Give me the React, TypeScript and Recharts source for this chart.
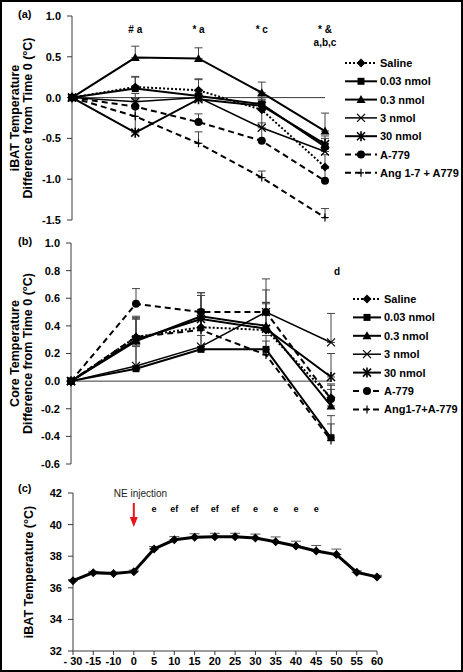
import React from "react";
import { LineChart, Line, XAxis, YAxis, ErrorBar, ReferenceLine, ReferenceDot, LabelList, Legend } from "recharts";

const FONT = "Arial, 'Liberation Sans', sans-serif";
const AXIS = "#3a3a3a";

// ---- panel (a): iBAT temperature change
const aTimes = ["0", "10", "20", "30", "60"];
const aSaline = [0, 0.13, 0.09, -0.15, -0.85];
const aNmol003 = [0, 0.11, 0.02, -0.08, -0.6];
const aNmol03 = [0, 0.49, 0.48, 0.06, -0.41];
const aNmol3 = [0, -0.05, 0.0, -0.37, -0.66];
const aNmol30 = [0, -0.43, -0.02, -0.1, -0.57];
const aA779 = [0, -0.11, -0.3, -0.53, -1.02];
const aAngA779 = [0, -0.23, -0.56, -0.98, -1.47];
const aSalineErr = [0, 0.12, 0.14, 0.12, 0.15];
const aNmol003Err = [0, 0.15, 0.2, 0.1, 0.1];
const aNmol03Err = [0, 0.14, 0.13, 0.13, 0.22];
const aNmol3Err = [0, 0.1, 0.1, 0.35, 0.1];
const aNmol30Err = [0, 0.4, 0.1, 0.1, 0.1];
const aA779Err = [0, 0.1, 0.1, 0.22, 0.15];
const aAngA779Err = [0, 0.1, 0.14, 0.08, 0.11];
const aNotes = ["", "# a", "* a", "* c", "* &|a,b,c"];
const aTicks = [-1.5, -1, -0.5, 0, 0.5, 1];

// ---- panel (b): core temperature change
const bTimes = ["0", "10", "20", "30", "60"];
const bSaline = [0, 0.32, 0.39, 0.37, -0.12];
const bNmol003 = [0, 0.09, 0.23, 0.23, -0.41];
const bNmol03 = [0, 0.29, 0.47, 0.4, -0.18];
const bNmol3 = [0, 0.11, 0.25, 0.5, 0.28];
const bNmol30 = [0, 0.3, 0.45, 0.38, 0.03];
const bA779 = [0, 0.56, 0.5, 0.5, -0.13];
const bAngA779 = [0, 0.32, 0.37, 0.19, -0.43];
const bSalineErr = [0, 0.15, 0.13, 0.2, 0.1];
const bNmol003Err = [0, 0.16, 0.1, 0.1, 0.1];
const bNmol03Err = [0, 0.16, 0.17, 0.17, 0.12];
const bNmol3Err = [0, 0.15, 0.12, 0.24, 0.21];
const bNmol30Err = [0, 0.15, 0.17, 0.18, 0.17];
const bA779Err = [0, 0.11, 0.14, 0.16, 0.1];
const bAngA779Err = [0, 0.14, 0.25, 0.1, 0.18];
const bNotes = ["", "", "", "", "d"];
const bTicks = [-0.6, -0.4, -0.2, 0, 0.2, 0.4, 0.6, 0.8, 1];

// ---- panel (c): iBAT temperature after NE injection
const cTimes = ["-\u00a030", "-15", "-10", "0", "5", "10", "15", "20", "25", "30", "35", "40", "45", "50", "55", "60"];
const cTemp = [36.45, 36.96, 36.9, 37.02, 38.46, 39.04, 39.2, 39.23, 39.23, 39.15, 38.92, 38.65, 38.33, 38.1, 36.98, 36.69];
const cErr = [0.08, 0.08, 0.08, 0.1, 0.15, 0.2, 0.22, 0.22, 0.22, 0.25, 0.3, 0.3, 0.35, 0.35, 0.1, 0.1];
const cNotes = ["", "", "", "", "e", "ef", "ef", "ef", "ef", "e", "e", "e", "e", "", "", ""];
const cTicks = [32, 34, 36, 38, 40, 42];

type MarkerKind = "diamond" | "square" | "triangle" | "x" | "star" | "circle" | "plus";
type SeriesDef = { key: string; marker: MarkerKind; dash?: string; width?: number };

const seriesDefs: SeriesDef[] = [
  { key: "saline", marker: "diamond", dash: "2 2" },
  { key: "n003", marker: "square" },
  { key: "n03", marker: "triangle" },
  { key: "n3", marker: "x", width: 1.5 },
  { key: "n30", marker: "star" },
  { key: "a779", marker: "circle", dash: "6 4" },
  { key: "ang", marker: "plus", dash: "6 4" },
];
const aNames = ["Saline", "0.03 nmol", "0.3 nmol", "3 nmol", "30 nmol", "A-779", "Ang 1-7 + A779"];
const bNames = ["Saline", "0.03 nmol", "0.3 nmol", "3 nmol", "30 nmol", "A-779", "Ang1-7+A-779"];

function buildRows(times: string[], values: number[][], errs: number[][], notes: string[]) {
  return times.map((t, i) => {
    const r: any = { t, note: notes[i] };
    seriesDefs.forEach((s, j) => {
      r[s.key] = values[j][i];
      r[s.key + "Err"] = [0, errs[j][i]];
    });
    return r;
  });
}

const aRows = buildRows(
  aTimes,
  [aSaline, aNmol003, aNmol03, aNmol3, aNmol30, aA779, aAngA779],
  [aSalineErr, aNmol003Err, aNmol03Err, aNmol3Err, aNmol30Err, aA779Err, aAngA779Err],
  aNotes
);
const bRows = buildRows(
  bTimes,
  [bSaline, bNmol003, bNmol03, bNmol3, bNmol30, bA779, bAngA779],
  [bSalineErr, bNmol003Err, bNmol03Err, bNmol3Err, bNmol30Err, bA779Err, bAngA779Err],
  bNotes
);
const cRows = cTimes.map((t, i) => ({ t, temp: cTemp[i], err: [0, cErr[i]], note: cNotes[i] }));

function Marker({ kind, cx, cy }: { kind: MarkerKind; cx: number; cy: number }) {
  switch (kind) {
    case "diamond":
      return <polygon points={`${cx},${cy - 4.5} ${cx + 4.5},${cy} ${cx},${cy + 4.5} ${cx - 4.5},${cy}`} fill="#000" />;
    case "square":
      return <rect x={cx - 3.5} y={cy - 3.5} width={7} height={7} fill="#000" />;
    case "triangle":
      return <polygon points={`${cx},${cy - 4.5} ${cx + 4.5},${cy + 3.5} ${cx - 4.5},${cy + 3.5}`} fill="#000" />;
    case "x":
      return (
        <path d={`M${cx - 4},${cy - 4}L${cx + 4},${cy + 4}M${cx - 4},${cy + 4}L${cx + 4},${cy - 4}`} stroke="#000" strokeWidth={1.2} />
      );
    case "star":
      return (
        <path
          d={`M${cx - 4},${cy - 4}L${cx + 4},${cy + 4}M${cx - 4},${cy + 4}L${cx + 4},${cy - 4}M${cx},${cy - 5}L${cx},${cy + 5}`}
          stroke="#000"
          strokeWidth={1.6}
        />
      );
    case "circle":
      return <circle cx={cx} cy={cy} r={4} fill="#000" />;
    case "plus":
      return <path d={`M${cx - 3},${cy}L${cx + 3},${cy}M${cx},${cy - 4}L${cx},${cy + 4}`} stroke="#000" strokeWidth={1.2} />;
  }
  return null;
}

const dotFor = (kind: MarkerKind) => (p: any) => {
  if (p.cx == null || p.cy == null) return <g key={p.index} />;
  return <Marker key={p.index} kind={kind} cx={p.cx} cy={p.cy} />;
};

const tickStyle = { fontSize: 11, fontWeight: 700, fill: "#000", fontFamily: FONT };

function AxisTitle({ lines, centerY }: { lines: string[]; centerY: number }) {
  const xs = lines.length === 2 ? [19, 32] : [33];
  return (
    <g transform={`translate(0,${centerY}) rotate(-90)`}>
      {lines.map((l, i) => (
        <text key={i} x={0} y={xs[i]} textAnchor="middle" style={{ ...tickStyle, fontSize: 12.5 }}>
          {l}
        </text>
      ))}
    </g>
  );
}

function LegendBox({ names, gap, lineLen }: { names: string[]; gap: number; lineLen: number }) {
  return (
    <svg width={125} height={gap * names.length + 10}>
      {seriesDefs.map((s, i) => {
        const y = 8 + i * gap;
        return (
          <g key={s.key}>
            <line x1={0} x2={lineLen} y1={y} y2={y} stroke="#000" strokeWidth={s.width ?? 2} strokeDasharray={s.dash} />
            <Marker kind={s.marker} cx={lineLen / 2} cy={y} />
            <text x={lineLen + 3} y={y + 4} style={tickStyle}>
              {names[i]}
            </text>
          </g>
        );
      })}
    </svg>
  );
}

type DiffProps = {
  tag: string;
  top: number;
  height: number;
  mTop: number;
  mBottom: number;
  yWidth: number;
  mRight: number;
  domain: [number, number];
  ticks: number[];
  rows: any[];
  names: string[];
  title: string[];
  labelDy: number;
  noteDx: number;
  noteY: number;
  legendLeft: number;
  legendTop: number;
  legendGap: number;
  legendLine: number;
};

function DiffPanel(p: DiffProps) {
  const plotH = p.height - p.mTop - p.mBottom;
  const zeroY = p.mTop + (plotH * p.domain[1]) / (p.domain[1] - p.domain[0]);
  const ZeroTick = (t: any) => (
    <g>
      <line x1={t.x} x2={t.x} y1={zeroY} y2={zeroY + 4} stroke={AXIS} />
      <text x={t.x} y={zeroY + p.labelDy} textAnchor="middle" style={tickStyle}>
        {t.payload.value}
      </text>
    </g>
  );
  const Note = (l: any) => {
    if (!l.value) return null;
    const parts = String(l.value).split("|");
    return (
      <g>
        {parts.map((s, i) => (
          <text key={i} x={l.x + p.noteDx} y={p.noteY + i * 13} textAnchor="middle" style={{ ...tickStyle, fontSize: 10 }}>
            {s}
          </text>
        ))}
      </g>
    );
  };
  return (
    <div style={{ position: "absolute", left: 0, top: p.top }}>
      <LineChart width={463} height={p.height} data={p.rows} margin={{ top: p.mTop, right: p.mRight, bottom: p.mBottom, left: 0 }}>
        <XAxis dataKey="t" height={0} axisLine={false} tickLine={false} interval={0} tick={ZeroTick} />
        <YAxis
          type="number"
          domain={p.domain}
          ticks={p.ticks}
          width={p.yWidth}
          tickFormatter={(v: number) => v.toFixed(1)}
          tick={tickStyle}
          tickSize={5}
          tickMargin={6}
          stroke={AXIS}
          label={{ content: () => <AxisTitle lines={p.title} centerY={p.mTop + plotH / 2} /> }}
        />
        <ReferenceLine y={0} stroke={AXIS} strokeWidth={1} />
        {seriesDefs.map((s) => (
          <Line
            key={s.key}
            dataKey={s.key}
            stroke="#000"
            strokeWidth={s.width ?? 2}
            strokeDasharray={s.dash}
            dot={dotFor(s.marker)}
            activeDot={false}
            isAnimationActive={false}
          >
            <ErrorBar dataKey={s.key + "Err"} direction="y" width={4} stroke="#444" strokeWidth={1} />
            {s.key === "n03" && <LabelList dataKey="note" content={Note} />}
          </Line>
        ))}
        <Legend
          layout="vertical"
          align="center"
          verticalAlign="middle"
          wrapperStyle={{ left: p.legendLeft, top: p.legendTop, width: 125 }}
          content={() => <LegendBox names={p.names} gap={p.legendGap} lineLen={p.legendLine} />}
        />
      </LineChart>
      <div style={{ position: "absolute", left: 18, top: p.mTop - 8, ...tickStyle, fontSize: 11, color: "#000" }}>{p.tag}</div>
    </div>
  );
}

function NePanel() {
  const top = 470;
  const height = 202;
  const mTop = 23;
  const mBottom = 1;
  const plotH = height - mTop - mBottom - 20;
  const Note = (l: any) =>
    l.value ? (
      <text x={l.x} y={42} textAnchor="middle" style={{ ...tickStyle, fontSize: 9 }}>
        {l.value}
      </text>
    ) : null;
  const Arrow = (d: any) => (
    <g>
      <text x={d.cx - 20} y={d.cy + 4} style={{ fontFamily: FONT, fontSize: 10, fill: "#222" }}>
        NE injection
      </text>
      <line x1={d.cx} x2={d.cx} y1={d.cy + 10} y2={d.cy + 27} stroke="#e8141b" strokeWidth={2} />
      <polygon points={`${d.cx - 4},${d.cy + 24} ${d.cx + 4},${d.cy + 24} ${d.cx},${d.cy + 34}`} fill="#e8141b" />
    </g>
  );
  return (
    <div style={{ position: "absolute", left: 0, top }}>
      <LineChart width={463} height={height} data={cRows} margin={{ top: mTop, right: 86, bottom: mBottom, left: 0 }}>
        <XAxis dataKey="t" height={20} interval={0} tick={tickStyle} tickSize={4} tickMargin={2} stroke={AXIS} />
        <YAxis
          type="number"
          domain={[32, 42]}
          ticks={cTicks}
          width={73}
          tick={tickStyle}
          tickSize={5}
          tickMargin={6}
          stroke={AXIS}
          label={{ content: () => <AxisTitle lines={["iBAT Temperature (°C)"]} centerY={mTop + plotH / 2} /> }}
        />
        <ReferenceDot x="0" y={42} r={0} shape={Arrow} />
        <Line dataKey="temp" stroke="#000" strokeWidth={3} dot={dotFor("diamond")} activeDot={false} isAnimationActive={false}>
          <ErrorBar dataKey="err" direction="y" width={5} stroke="#555" strokeWidth={1} />
          <LabelList dataKey="note" content={Note} />
        </Line>
      </LineChart>
      <div style={{ position: "absolute", left: 18, top: 12, ...tickStyle, fontSize: 11, color: "#000" }}>(c)</div>
    </div>
  );
}

export default function App() {
  return (
    <div style={{ position: "absolute", left: 0, top: 0, width: 463, height: 672, background: "#fff", fontFamily: FONT }}>
      <DiffPanel
        tag="(a)"
        top={0}
        height={240}
        mTop={16}
        mBottom={20}
        yWidth={72}
        mRight={138}
        domain={[-1.5, 1]}
        ticks={aTicks}
        rows={aRows}
        names={aNames}
        title={["iBAT Temperature", "Difference from  Time 0 (°C)"]}
        labelDy={18}
        noteDx={0}
        noteY={33}
        legendLeft={345}
        legendTop={55}
        legendGap={18.3}
        legendLine={32}
      />
      <DiffPanel
        tag="(b)"
        top={225}
        height={250}
        mTop={18}
        mBottom={11}
        yWidth={71}
        mRight={132}
        domain={[-0.6, 1]}
        ticks={bTicks}
        rows={bRows}
        names={bNames}
        title={["Core Temperature", "Difference from Time 0 (°C)"]}
        labelDy={12}
        noteDx={6}
        noteY={50}
        legendLeft={353}
        legendTop={66}
        legendGap={18.4}
        legendLine={28}
      />
      <NePanel />
      <div
        style={{
          position: "absolute",
          left: 0,
          top: 0,
          width: 463,
          height: 672,
          boxSizing: "border-box",
          border: "2px solid #000",
          pointerEvents: "none",
        }}
      />
    </div>
  );
}
